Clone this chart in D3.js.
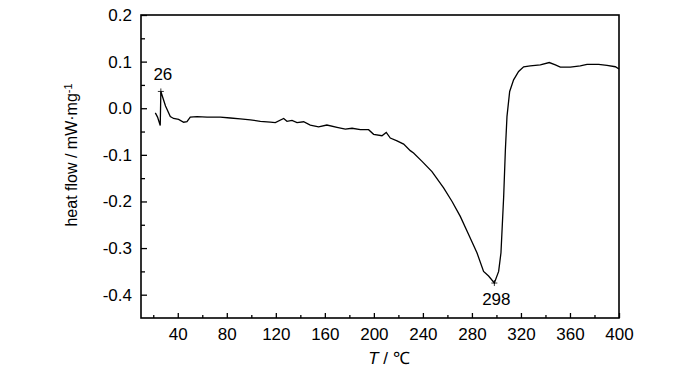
<!DOCTYPE html>
<html>
<head>
<meta charset="utf-8">
<script src="https://cdn.jsdelivr.net/npm/d3@7"></script>
<style>
  body { margin: 0; background: #fff; }
  text { font-family: "Liberation Sans", Arial, sans-serif; }
</style>
</head>
<body>
<script>
// DSC curve
var temp = [21.7, 23.5, 25.7, 26.2, 30, 33.9, 36.6, 40.7, 44.8, 47.5, 50.2, 55.7, 63.9, 74.7, 82.9, 91, 99.2, 107.4,
  115.5, 119.6, 126.4, 129.1, 133.2, 137.3, 142.7, 148.1, 154.9, 161.7, 169.9, 176.7, 182.2, 189, 195.7, 199.8,
  206.6, 210.1, 213.4, 218.9, 224.3, 229.7, 232.4, 239.3, 247.4, 256.9, 263.8, 270.5, 277.3, 284.1, 289.5, 293.6,
  298.3, 301.8, 303.7, 305.9, 307.3, 308.6, 310.8, 314, 318.1, 322.2, 327.6, 335.8, 343.1, 348.1, 352.1, 360.3,
  368.4, 373.9, 383.4, 390.2, 397, 400];
var flow = [-0.010, -0.019, -0.037, 0.036, 0.005, -0.018, -0.022, -0.024, -0.030, -0.029, -0.019, -0.018, -0.019, -0.019, -0.021, -0.023, -0.025, -0.028,
  -0.030, -0.031, -0.022, -0.028, -0.026, -0.031, -0.029, -0.036, -0.040, -0.036, -0.041, -0.045, -0.043, -0.046, -0.046, -0.056,
  -0.059, -0.052, -0.064, -0.070, -0.077, -0.091, -0.096, -0.114, -0.136, -0.171, -0.200, -0.232, -0.271, -0.310, -0.350, -0.360,
  -0.375, -0.350, -0.310, -0.190, -0.089, -0.018, 0.036, 0.061, 0.079, 0.089, 0.091, 0.093, 0.098, 0.093, 0.088, 0.088,
  0.091, 0.094, 0.094, 0.092, 0.089, 0.084];
var xTicks = [40, 80, 120, 160, 200, 240, 280, 320, 360, 400];
var xMinor = [20, 60, 100, 140, 180, 220, 260, 300, 340, 380];
var yTicks = [0.2, 0.1, 0.0, -0.1, -0.2, -0.3, -0.4];
var yMinor = [0.15, 0.05, -0.05, -0.15, -0.25, -0.35];
var peaks = [{t: 26.2, v: 0.036, label: "26"}, {t: 298.3, v: -0.375, label: "298"}];

var data = temp.map(function(t, i) { return {t: t, v: flow[i]}; });

var svg = d3.select("body").append("svg")
    .attr("width", 700)
    .attr("height", 373)
    .style("display", "block");

var margin = {top: 15, right: 81, bottom: 55, left: 141};
var width = 700 - margin.left - margin.right;
var height = 373 - margin.top - margin.bottom;
var g = svg.append("g").attr("transform", "translate(" + margin.left + "," + margin.top + ")");

var x = d3.scaleLinear().domain([10, 400]).range([0, width]);
var y = d3.scaleLinear().domain([-0.45, 0.2]).range([height, 0]);

var fmt = function(d) { return d3.format(".1f")(d).replace("\u2212", "-"); };

// minor ticks first
g.append("g")
    .attr("transform", "translate(0," + height + ")")
    .call(d3.axisBottom(x).tickValues(xMinor).tickSize(-3).tickFormat(""))
    .call(function(a) { a.select(".domain").remove(); });
g.append("g")
    .call(d3.axisLeft(y).tickValues(yMinor).tickSize(-4).tickFormat(""))
    .call(function(a) { a.select(".domain").remove(); });

var xa = g.append("g")
    .attr("transform", "translate(0," + height + ")")
    .call(d3.axisBottom(x).tickValues(xTicks).tickSize(-5).tickPadding(10));
xa.select(".domain").remove();
xa.selectAll("text").style("font-size", "17px").attr("fill", "#000");

var ya = g.append("g")
    .call(d3.axisLeft(y).tickValues(yTicks).tickSize(-6).tickPadding(9).tickFormat(fmt));
ya.select(".domain").remove();
ya.selectAll("text").style("font-size", "17px").attr("fill", "#000");

g.selectAll(".tick line").attr("stroke", "#000").attr("stroke-width", 1.3);

g.append("rect")
    .attr("width", width)
    .attr("height", height)
    .attr("fill", "none")
    .attr("stroke", "#000")
    .attr("stroke-width", 1.6);

var line = d3.line()
    .x(function(d) { return x(d.t); })
    .y(function(d) { return y(d.v); })
    .curve(d3.curveLinear);

g.append("path")
    .datum(data)
    .attr("d", line)
    .attr("fill", "none")
    .attr("stroke", "#000")
    .attr("stroke-width", 1.3);

// peak markers
peaks.forEach(function(p, i) {
    var px = x(p.t), py = y(p.v);
    g.append("path")
        .attr("d", "M" + (px - 3) + "," + py + "H" + (px + 3) + "M" + px + "," + (py - 3) + "V" + (py + 3))
        .attr("stroke", "#000")
        .attr("stroke-width", 0.8);
    g.append("text")
        .attr("x", px + 2)
        .attr("y", i == 0 ? py - 11 : py + 22)
        .attr("text-anchor", "middle")
        .style("font-size", "17px")
        .text(p.label);
});

// axis titles
svg.append("text")
    .attr("transform", "translate(77,155) rotate(-90)")
    .attr("text-anchor", "middle")
    .style("font-size", "16px")
    .text("heat flow / mW\u00b7mg")
    .append("tspan")
    .attr("dy", "-0.5em")
    .style("font-size", "11px")
    .text("-1");

var xt = svg.append("text")
    .attr("x", 389)
    .attr("y", 364)
    .attr("text-anchor", "middle")
    .style("font-size", "17px");
xt.append("tspan").style("font-style", "italic").text("T");
xt.append("tspan").text(" / \u2103");
</script>
</body>
</html>
